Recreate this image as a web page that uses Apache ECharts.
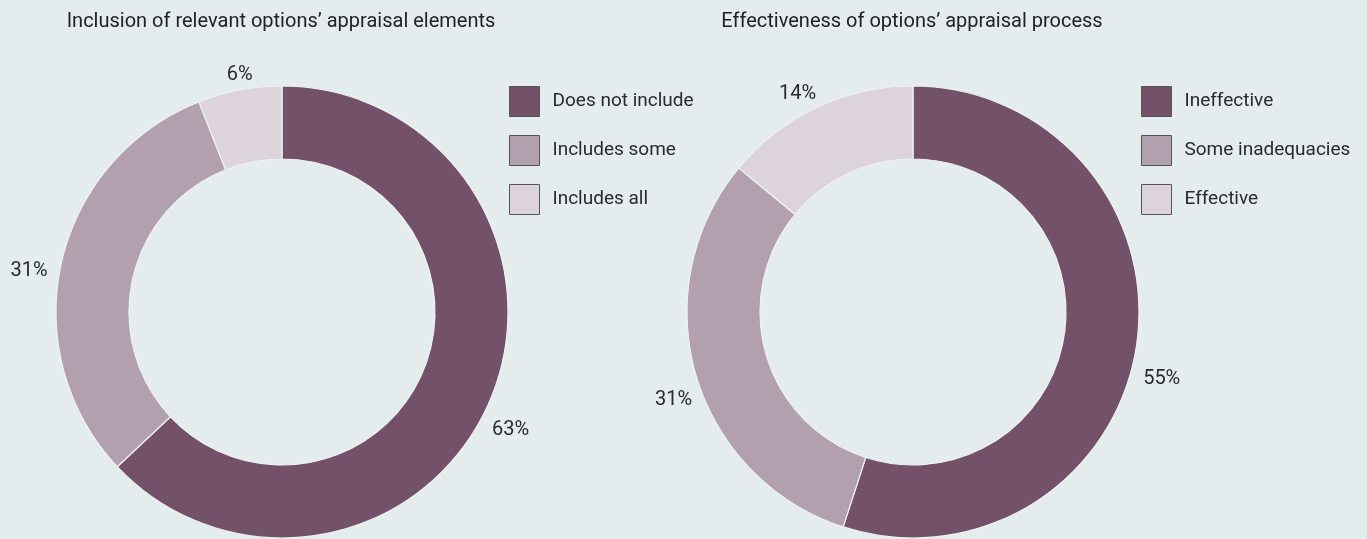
<!DOCTYPE html>
<html>
<head>
<meta charset="utf-8">
<script src="https://cdn.jsdelivr.net/npm/echarts@6/dist/echarts.min.js"></script>
<style>
  html, body { margin: 0; padding: 0; background: #e4ecee; }
  #chart { width: 1367px; height: 539px; }
</style>
</head>
<body>
<div id="chart"></div>
<script>
// Doughnut 1: inclusion of appraisal elements
const inclusionTitle = 'Inclusion of relevant options\u2019 appraisal elements';
const inclusionCategories = ['Does not include', 'Includes some', 'Includes all'];
const inclusionValues = [63, 31, 6];

// Doughnut 2: effectiveness of the appraisal process
const effectTitle = 'Effectiveness of options\u2019 appraisal process';
const effectCategories = ['Ineffective', 'Some inadequacies', 'Effective'];
const effectValues = [55, 31, 14];

const palette = ['#735269', '#b2a0ae', '#ddd3db'];
const font = 'Roboto, "Liberation Sans", sans-serif';

// small nudges of the outside value labels, per slice
const inclusionLabelShift = [[-14, 26], [3, 10], [25, -9]];
const effectLabelShift = [[-10, 31], [13, 23], [13, -8]];

function buildData(cats, vals) {
  return cats.map((c, i) => ({ name: c, value: vals[i], itemStyle: { color: palette[i] } }));
}

function pieSeries(name, cats, vals, center, shift) {
  return {
    type: 'pie',
    name: name,
    center: center,
    radius: [153, 226],
    startAngle: 90,
    clockwise: true,
    avoidLabelOverlap: false,
    silent: true,
    itemStyle: { borderColor: '#eef2f3', borderWidth: 1.2 },
    label: {
      show: true,
      position: 'outside',
      formatter: '{c}%',
      fontFamily: font,
      fontSize: 20,
      color: '#2a2a2a'
    },
    labelLine: { show: false, length: 6, length2: 6 },
    labelLayout: function (p) {
      const s = shift[p.dataIndex];
      return { dx: s[0], dy: s[1] };
    },
    data: buildData(cats, vals)
  };
}

function legend(cats, left) {
  return {
    data: cats,
    orient: 'vertical',
    left: left,
    top: 81,
    icon: 'rect',
    itemWidth: 30,
    itemHeight: 30,
    itemGap: 18,
    selectedMode: false,
    itemStyle: { borderColor: '#555555', borderWidth: 1 },
    textStyle: { fontFamily: font, fontSize: 19, color: '#2a2a2a', padding: [0, 0, 0, 8] }
  };
}

const chart = echarts.init(document.getElementById('chart'), null, { renderer: 'canvas' });
chart.setOption({
  backgroundColor: '#e4ecee',
  animation: false,
  title: [
    { text: inclusionTitle, left: 276, top: 7, textAlign: 'center',
      textStyle: { fontFamily: font, fontSize: 20, fontWeight: 'normal', color: '#222222' } },
    { text: effectTitle, left: 907, top: 7, textAlign: 'center',
      textStyle: { fontFamily: font, fontSize: 20, fontWeight: 'normal', color: '#222222' } }
  ],
  legend: [legend(inclusionCategories, 504), legend(effectCategories, 1136)],
  series: [
    pieSeries('inclusion', inclusionCategories, inclusionValues, [282, 312], inclusionLabelShift),
    pieSeries('effectiveness', effectCategories, effectValues, [913, 312], effectLabelShift)
  ]
});
</script>
</body>
</html>
